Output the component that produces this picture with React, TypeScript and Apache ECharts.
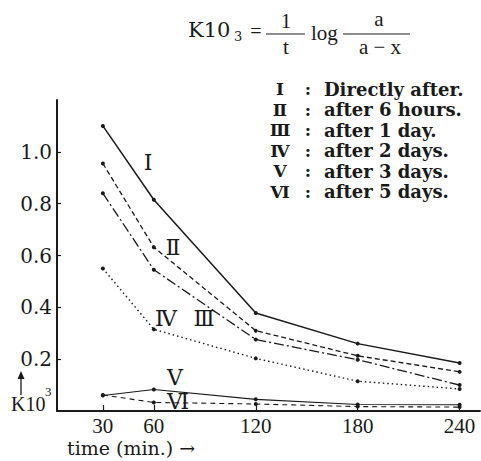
import React, { useEffect, useRef } from "react";
import * as echarts from "echarts";

const times = [30, 60, 120, 180, 240];
const xTickLabels = [30, 60, 120, 180, 240];
const yTickLabels = [0.2, 0.4, 0.6, 0.8, 1.0];

const seriesI = [1.1, 0.815, 0.378, 0.26, 0.185];
const seriesII = [0.955, 0.632, 0.31, 0.213, 0.151];
const seriesIII = [0.84, 0.545, 0.276, 0.198, 0.1];
const seriesIV = [0.55, 0.315, 0.203, 0.115, 0.085];
const seriesV = [0.06, 0.083, 0.045, 0.025, 0.024];
const seriesVI = [0.062, 0.033, 0.027, 0.017, 0.015];

const numerals = ["Ⅰ", "Ⅱ", "Ⅲ", "Ⅳ", "Ⅴ", "Ⅵ"];
const legendTexts = [
  "Directly after.",
  "after 6 hours.",
  "after 1 day.",
  "after 2 days.",
  "after 3 days.",
  "after 5 days.",
];

const INK = "#1a1a1a";
const SERIF = '"DejaVu Serif", "Liberation Serif", "Noto Sans CJK JP", serif';
const TSERIF = '"Liberation Serif", "DejaVu Serif", serif';

export default function App() {
  const ref = useRef<HTMLDivElement>(null);
  useEffect(() => {
    if (!ref.current) return;
    const chart = echarts.init(ref.current, null, { renderer: "svg" });

    const mk = (name: string, data: number[], type: any, width: number) => ({
      name,
      type: "line",
      data: times.map((t, i) => [t, data[i]]),
      symbol: "circle",
      symbolSize: 4,
      itemStyle: { color: INK },
      lineStyle: { color: INK, width, type },
      silent: true,
    });

    const text = (t: string, x: number, y: number, font: string, align = "left") => ({
      type: "text",
      x,
      y,
      silent: true,
      style: { text: t, font, fill: INK, textAlign: align, textVerticalAlign: "middle" },
    });

    const graphics: any[] = [
      // formula
      text("K10", 188, 30, `21px ${SERIF}`),
      text("3", 234, 36, `13px ${SERIF}`),
      text("=", 256, 31, `20px ${TSERIF}`, "center"),
      text("1", 286, 21, `21px ${TSERIF}`, "center"),
      { type: "line", silent: true, shape: { x1: 266, y1: 34, x2: 305, y2: 34 }, style: { stroke: INK, lineWidth: 1.2 } },
      text("t", 286, 47, `21px ${TSERIF}`, "center"),
      text("log", 311, 33, `21px ${TSERIF}`),
      text("a", 379, 19, `21px ${TSERIF}`, "center"),
      { type: "line", silent: true, shape: { x1: 343, y1: 34, x2: 410, y2: 34 }, style: { stroke: INK, lineWidth: 1.2 } },
      text("a − x", 380, 47, `21px ${TSERIF}`, "center"),
      // curve labels
      text("Ⅰ", 148, 162, `22px ${SERIF}`, "center"),
      text("Ⅱ", 173, 247, `22px ${SERIF}`, "center"),
      text("Ⅳ", 166, 318, `22px ${SERIF}`, "center"),
      text("Ⅲ", 204, 318, `22px ${SERIF}`, "center"),
      text("Ⅴ", 175, 377, `22px ${SERIF}`, "center"),
      text("Ⅵ", 178, 401, `22px ${SERIF}`, "center"),
      // y axis name
      { type: "line", silent: true, shape: { x1: 21, y1: 377, x2: 21, y2: 395 }, style: { stroke: INK, lineWidth: 1.3 } },
      { type: "polygon", silent: true, shape: { points: [[21, 371], [17.5, 379], [24.5, 379]] }, style: { fill: INK } },
      text("K10", 11, 404, `20px ${TSERIF}`),
      text("3", 45, 391, `13px ${TSERIF}`),
      // x axis name
      text("time (min.) →", 67, 448, `19px ${SERIF}`),
    ];
    numerals.forEach((n, i) => {
      const y = 89 + i * 20.5;
      graphics.push(text(n, 280, y, `bold 17px ${SERIF}`, "center"));
      graphics.push(text(":", 308, y, `bold 17px ${SERIF}`, "center"));
      graphics.push(text(legendTexts[i], 324, y, `bold 18px ${SERIF}`));
    });

    chart.setOption({
      animation: false,
      backgroundColor: "#ffffff",
      grid: { left: 57, right: 1, top: 100, bottom: 50 },
      xAxis: {
        type: "value",
        min: 3,
        max: 252,
        splitLine: { show: false },
        axisLine: { show: true, onZero: false, lineStyle: { color: INK, width: 2 } },
        axisTick: { show: true, inside: true, length: 6, customValues: xTickLabels, lineStyle: { color: INK, width: 1.2 } },
        axisLabel: {
          customValues: xTickLabels,
          margin: 4,
          color: INK,
          fontFamily: TSERIF,
          fontSize: 21,
          formatter: (v: number) => String(v),
        },
      },
      yAxis: {
        type: "value",
        min: 0,
        max: 1.2,
        interval: 0.2,
        splitLine: { show: false },
        axisLine: { show: true, lineStyle: { color: INK, width: 2 } },
        axisTick: { show: true, inside: true, length: 4, customValues: yTickLabels, lineStyle: { color: INK, width: 1.2 } },
        axisLabel: {
          customValues: yTickLabels,
          margin: 5,
          color: INK,
          fontFamily: SERIF,
          fontSize: 20,
          formatter: (v: number) => v.toFixed(1),
        },
      },
      series: [
        mk("Ⅰ", seriesI, "solid", 1.5),
        mk("Ⅱ", seriesII, [5, 3], 1.3),
        mk("Ⅲ", seriesIII, [10, 3, 2, 3], 1.3),
        mk("Ⅳ", seriesIV, [1.5, 3], 1.4),
        mk("Ⅴ", seriesV, "solid", 1.1),
        mk("Ⅵ", seriesVI, [5, 4], 1.1),
      ],
      graphic: graphics,
    });
    return () => chart.dispose();
  }, []);
  return <div ref={ref} style={{ width: 481, height: 461, position: "absolute", left: 0, top: 0 }} />;
}
